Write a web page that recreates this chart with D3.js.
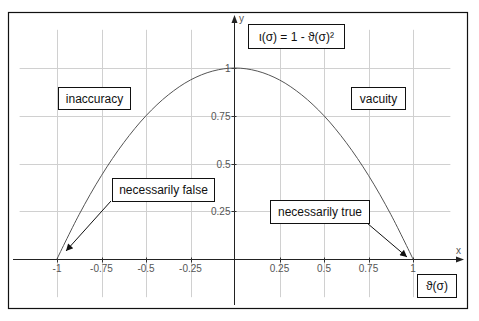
<!DOCTYPE html>
<html>
<head>
<meta charset="utf-8">
<script src="https://cdn.jsdelivr.net/npm/d3@7"></script>
<style>
  body { margin: 0; background: #fff; }
  text { font-family: Arial, "Liberation Sans", sans-serif; }
</style>
</head>
<body>
<div id="chart"></div>
<script>
// Chart data
var xTicks = [-1, -0.75, -0.5, -0.25, 0.25, 0.5, 0.75, 1];
var xTickLabels = ["-1", "-0.75", "-0.5", "-0.25", "0.25", "0.5", "0.75", "1"];
var yTicks = [0.25, 0.5, 0.75, 1];
var yTickLabels = ["0.25", "0.5", "0.75", "1"];
var xGrid = [-1, -0.75, -0.5, -0.25, 0.25, 0.5, 0.75, 1];
var yGrid = [0.25, 0.5, 0.75, 1];
// curve samples of iota = 1 - theta^2, read at grid steps
var curveX = [-1, -0.875, -0.75, -0.625, -0.5, -0.375, -0.25, -0.125, 0, 0.125, 0.25, 0.375, 0.5, 0.625, 0.75, 0.875, 1];
var curveY = [0, 0.234, 0.4375, 0.609, 0.75, 0.859, 0.9375, 0.984, 1, 0.984, 0.9375, 0.859, 0.75, 0.609, 0.4375, 0.234, 0];
var boxLabels = ["inaccuracy", "vacuity", "\u03B9(\u03C3) = 1 - \u03D1(\u03C3)\u00B2", "necessarily false", "necessarily true", "\u03D1(\u03C3)"];

var W = 479, H = 321;
var svg = d3.select("#chart").append("svg")
    .attr("width", W)
    .attr("height", H);

// scales
var x = d3.scaleLinear().domain([-1, 1]).range([57, 413]);
var y = d3.scaleLinear().domain([0, 1]).range([259, 68]);

// outer frame
svg.append("rect")
    .attr("x", 8.5).attr("y", 12.5)
    .attr("width", 459).attr("height", 296)
    .attr("fill", "none").attr("stroke", "#111").attr("stroke-width", 1.2);

// grid
svg.selectAll(".vgrid").data(xGrid).enter().append("line")
    .attr("x1", function(d) { return Math.round(x(d)) + 0.5; })
    .attr("x2", function(d) { return Math.round(x(d)) + 0.5; })
    .attr("y1", y(1.2)).attr("y2", y(-0.2))
    .attr("stroke", "#d0d0d0");
svg.selectAll(".hgrid").data(yGrid).enter().append("line")
    .attr("y1", function(d) { return Math.round(y(d)) + 0.5; })
    .attr("y2", function(d) { return Math.round(y(d)) + 0.5; })
    .attr("x1", x(-1.21)).attr("x2", x(1.21))
    .attr("stroke", "#d0d0d0");

// axes
var x0 = Math.round(x(0)) - 0.5, y0 = Math.round(y(0)) + 0.5;
svg.append("line").attr("x1", 13).attr("x2", 461).attr("y1", y0).attr("y2", y0)
    .attr("stroke", "#222");
svg.append("line").attr("x1", x0).attr("x2", x0).attr("y1", 19).attr("y2", 305)
    .attr("stroke", "#222");
svg.append("path").attr("d", "M464," + y0 + "L456," + (y0 - 3) + "L456," + (y0 + 3) + "Z").attr("fill", "#222");
svg.append("path").attr("d", "M" + x0 + ",15L" + (x0 - 3) + ",23L" + (x0 + 3) + ",23Z").attr("fill", "#222");
svg.append("text").attr("x", 456).attr("y", 254).attr("font-size", 10).attr("fill", "#555").text("x");
svg.append("text").attr("x", 239).attr("y", 22).attr("font-size", 10).attr("fill", "#555").text("y");

// ticks and labels
svg.selectAll(".xt").data(xTicks).enter().append("line")
    .attr("x1", function(d) { return Math.round(x(d)) + 0.5; })
    .attr("x2", function(d) { return Math.round(x(d)) + 0.5; })
    .attr("y1", y0 - 2).attr("y2", y0 + 3).attr("stroke", "#333");
svg.selectAll(".xl").data(xTicks).enter().append("text")
    .attr("x", function(d) { return x(d); })
    .attr("y", 272)
    .attr("text-anchor", "middle").attr("font-size", 10).attr("fill", "#555")
    .text(function(d, i) { return xTickLabels[i]; });
svg.selectAll(".yt").data(yTicks).enter().append("line")
    .attr("y1", function(d) { return Math.round(y(d)) + 0.5; })
    .attr("y2", function(d) { return Math.round(y(d)) + 0.5; })
    .attr("x1", x0 - 3).attr("x2", x0 + 2).attr("stroke", "#333");
svg.selectAll(".yl").data(yTicks).enter().append("text")
    .attr("x", x0 - 4)
    .attr("y", function(d) { return y(d) + 4; })
    .attr("text-anchor", "end").attr("font-size", 10).attr("fill", "#555")
    .text(function(d, i) { return yTickLabels[i]; });

// curve
var line = d3.line()
    .x(function(d) { return x(d[0]); })
    .y(function(d) { return y(d[1]); })
    .curve(d3.curveCatmullRom);
svg.append("path")
    .datum(curveX.map(function(v, i) { return [v, curveY[i]]; }))
    .attr("d", line)
    .attr("fill", "none").attr("stroke", "#555").attr("stroke-width", 1);

// arrows
svg.append("defs").append("marker")
    .attr("id", "ah").attr("viewBox", "0 0 10 10")
    .attr("refX", 10).attr("refY", 5)
    .attr("markerWidth", 9).attr("markerHeight", 7)
    .attr("markerUnits", "userSpaceOnUse")
    .attr("orient", "auto")
    .append("path").attr("d", "M0,0L10,5L0,10Z").attr("fill", "#111");
svg.append("line").attr("x1", 111).attr("y1", 201).attr("x2", 66).attr("y2", 251)
    .attr("stroke", "#111").attr("marker-end", "url(#ah)");
svg.append("line").attr("x1", 367).attr("y1", 223).attr("x2", 407).attr("y2", 257)
    .attr("stroke", "#111").attr("marker-end", "url(#ah)");

// text boxes
var boxes = [
  {x: 58, y: 87, w: 72, h: 22, fs: 12},
  {x: 351, y: 87, w: 54, h: 22, fs: 12},
  {x: 248, y: 24, w: 96, h: 24, fs: 12},
  {x: 112, y: 178, w: 102, h: 23, fs: 12},
  {x: 270, y: 200, w: 99, h: 23, fs: 12},
  {x: 417, y: 274, w: 39, h: 23, fs: 12}
];
boxes.forEach(function(b, i) {
  svg.append("rect")
      .attr("x", b.x + 0.5).attr("y", b.y + 0.5)
      .attr("width", b.w).attr("height", b.h)
      .attr("fill", "#fff").attr("stroke", "#111").attr("stroke-width", 1);
  svg.append("text")
      .attr("x", b.x + b.w / 2 + 0.5).attr("y", b.y + b.h / 2 + 4.5)
      .attr("text-anchor", "middle").attr("font-size", b.fs).attr("fill", "#111")
      .text(boxLabels[i]);
});
</script>
</body>
</html>
